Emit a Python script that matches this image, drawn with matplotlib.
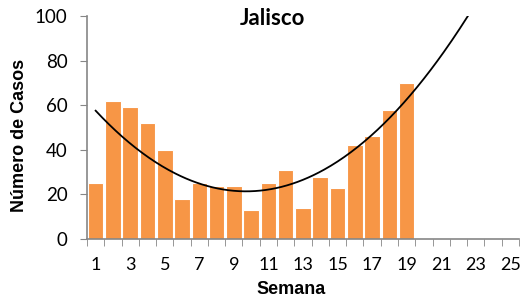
import numpy as np
import matplotlib
matplotlib.use('Agg')
import matplotlib.pyplot as plt

weeks = np.arange(1, 20)
cases = [25, 62, 59, 52, 40, 18, 25, 24, 24, 13, 25, 31, 14, 28, 23, 42, 46, 58, 70]
xtick_labels = list(range(1, 26, 2))

fig = plt.figure(figsize=(5.21, 3.0), dpi=100)
ax = fig.add_axes([0.167, 0.203, 0.829, 0.744])

ax.bar(weeks, cases, width=0.9, color='#F79646', edgecolor='white', linewidth=0.8, zorder=2)

# quadratic trendline, extended forward like the spreadsheet did
coef = np.polyfit(weeks, cases, 2)
xt = np.linspace(1, 24, 300)
ax.plot(xt, np.polyval(coef, xt), color='black', linewidth=1.3, zorder=3)

ax.set_xlim(0.5, 25.5)
ax.set_ylim(0, 100)
ax.set_xticks(xtick_labels)
ax.set_xticklabels([str(v) for v in xtick_labels], fontfamily='Lato', fontsize=13)
ax.set_xticks(np.arange(0.5, 26, 1), minor=True)
ax.tick_params(axis='x', which='major', length=0, pad=13)
ax.tick_params(axis='x', which='minor', length=5, color='#868686', direction='out')
ax.set_yticks(range(0, 101, 20))
ax.tick_params(axis='y', length=5, color='#868686', direction='out', pad=9)
for lab in ax.get_yticklabels():
    lab.set_fontfamily('Lato')
    lab.set_fontsize(13.5)

for s in ['top', 'right']:
    ax.spines[s].set_visible(False)
for s in ['left', 'bottom']:
    ax.spines[s].set_color('#868686')
    ax.spines[s].set_linewidth(1.2)

fig.text(0.523, 0.938, 'Jalisco', ha='center', va='center', fontsize=16,
         fontweight='bold', fontfamily='Lato')
fig.text(0.559, 0.035, 'Semana', ha='center', va='center', fontsize=13,
         fontweight='bold', fontfamily='Liberation Sans')
fig.text(0.038, 0.55, 'Número de Casos', ha='center', va='center', rotation=90,
         fontsize=13, fontweight='bold', fontfamily='Liberation Sans')

fig.savefig('out.png', dpi=100)
